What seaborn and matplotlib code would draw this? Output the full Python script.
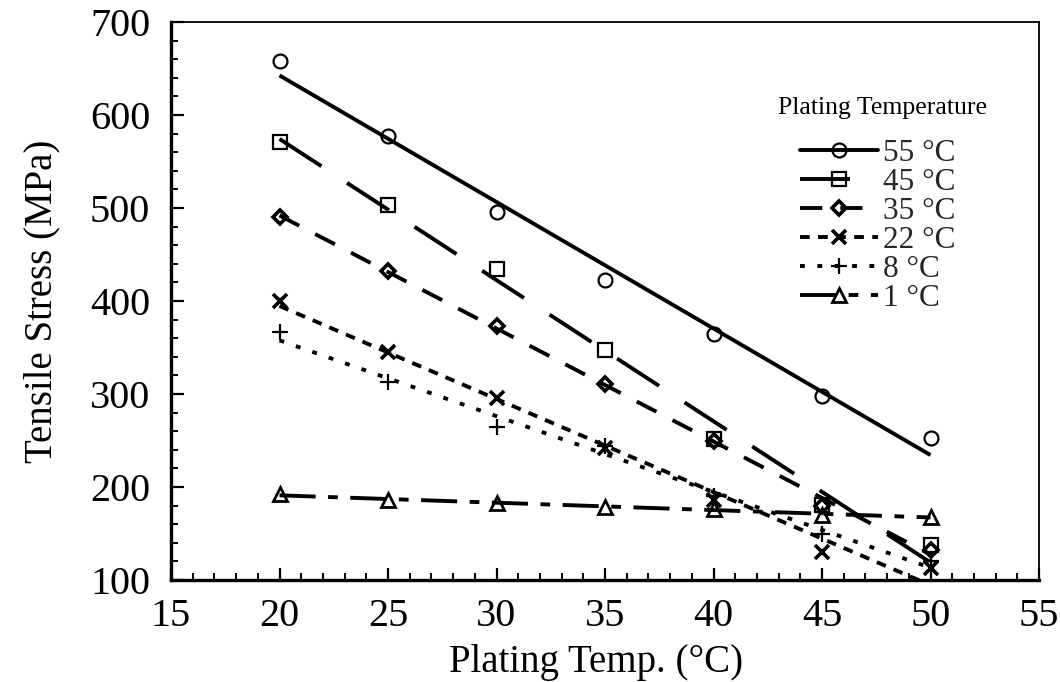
import numpy as np
import pandas as pd
import matplotlib
matplotlib.use("Agg")
import matplotlib.pyplot as plt
from matplotlib.lines import Line2D
from matplotlib.ticker import MultipleLocator
import seaborn as sns

# ---------------- data ----------------
plating_temp = [20, 25, 30, 35, 40, 45, 50]
stress_55 = [658, 577, 496, 423, 364, 298, 253]
stress_45 = [571, 503, 434, 347, 252, 181, 138]
stress_35 = [490, 432, 373, 311, 250, 180, 132]
stress_22 = [400, 345, 296, 242, 186, 130, 113]
stress_8 = [367, 313, 264, 244, 190, 150, 120]
stress_1 = [192, 186, 183, 179, 176, 170, 168]
series_labels = ["55 °C", "45 °C", "35 °C", "22 °C", "8 °C", "1 °C"]
x_ticks = [15, 20, 25, 30, 35, 40, 45, 50, 55]
y_ticks = [100, 200, 300, 400, 500, 600, 700]

series = [stress_55, stress_45, stress_35, stress_22, stress_8, stress_1]

# ---------------- styles ----------------
sns.set_theme(style="ticks")
plt.rcParams["font.family"] = ["Liberation Serif", "DejaVu Serif"]
plt.rcParams["lines.scale_dashes"] = False

markers = ["o", "s", "D", "x", "+", "^"]
msizes = [10, 10, 7, 10, 11, 10]
mews = [1.6, 1.6, 2.6, 2.6, 1.6, 2.0]
dash_styles = [None, (36, 22), (16, 13), (7, 6), (3.5, 9), (26, 9, 7, 9)]
LW = 2.8

fig = plt.figure(figsize=(10.6, 6.82), dpi=100)
ax = fig.add_axes([171 / 1060, 102 / 682, 868 / 1060, 558 / 682])

handles = []
for vals, lab, m, ms, mew, ds in zip(series, series_labels, markers, msizes, mews, dash_styles):
    df = pd.DataFrame({"T": plating_temp, "S": vals})
    lkw = dict(color="black", lw=LW, solid_capstyle="butt", dash_capstyle="butt")
    if ds is not None:
        lkw["dashes"] = ds
    sns.regplot(data=df, x="T", y="S", ax=ax, scatter=False, ci=None,
                truncate=True, line_kws=lkw)
    sns.lineplot(data=df, x="T", y="S", ax=ax, color="black", marker=m,
                 linestyle="none", markersize=ms, markerfacecolor="none",
                 markeredgecolor="black", markeredgewidth=mew)
    hkw = dict(color="black", lw=LW, marker=m, markersize=ms,
               markerfacecolor="none", markeredgecolor="black",
               markeredgewidth=mew, dash_capstyle="butt")
    if ds is not None:
        hkw["dashes"] = ds
    handles.append(Line2D([], [], **hkw))

ax.set_xlim(15, 55)
ax.set_ylim(100, 700)
ax.set_xticks(x_ticks)
ax.set_yticks(y_ticks)
ax.xaxis.set_minor_locator(MultipleLocator(1))
ax.yaxis.set_minor_locator(MultipleLocator(20))
ax.tick_params(which="major", direction="in", length=9, width=1.6,
               labelsize=29, top=False, right=False, color="black")
ax.tick_params(axis="x", which="major", pad=13)
ax.tick_params(axis="y", which="major", pad=15)
ax.tick_params(which="minor", direction="in", length=5, width=1.4,
               top=False, right=False, color="black")

for side in ["left", "bottom"]:
    ax.spines[side].set_linewidth(2.4)
for side in ["top", "right"]:
    ax.spines[side].set_linewidth(1.3)
for s in ax.spines.values():
    s.set_color("black")

ax.set_xlabel("Plating Temp. (°C)", fontsize=28, color="black")
ax.set_ylabel("Tensile Stress (MPa)", fontsize=28, color="black")
ax.xaxis.set_label_coords(0.49, -0.115)
ax.yaxis.set_label_coords(-0.127, 0.5)

for lbl in ax.get_xticklabels() + ax.get_yticklabels():
    lbl.set_color("black")

leg = ax.legend(handles, series_labels, loc="upper left",
                bbox_to_anchor=(800 / 1060, 1 - 139 / 682),
                bbox_transform=fig.transFigure, frameon=False,
                fontsize=22.5, handlelength=2.5, handletextpad=0.15,
                labelspacing=0.0, borderpad=0, borderaxespad=0, numpoints=1)
fig.text(882 / 1060, 1 - 108 / 682, "Plating Temperature", fontsize=18.5,
         ha="center", va="center", color="black")

fig.savefig("out.png", dpi=100, facecolor="white")
